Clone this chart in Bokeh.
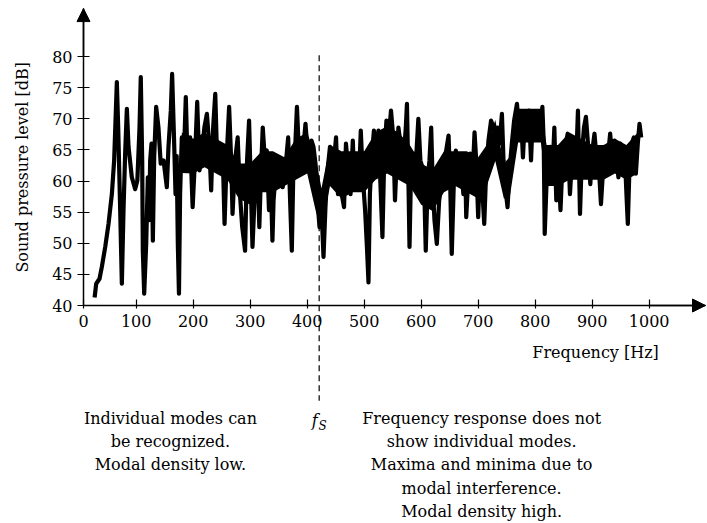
import math
from bokeh.plotting import figure
from bokeh.models import Range1d, FixedTicker, Label, Arrow, NormalHead, ColumnDataSource
from bokeh.embed import file_html
from bokeh.resources import INLINE

# ---- data ----
freq_hz = [
    27, 29.8, 35.6, 39.7, 45.6, 51.4, 57.3, 61.3, 64.3, 66, 68.4, 71.9, 74.8, 77.7, 80.6, 83.6, 86.5,
    92.3, 98.2, 102, 105.8, 108, 110.5, 111.6, 114, 117.5, 120.4, 122.7, 124.5, 126.8, 129.2, 131.5,
    135, 139, 143, 148, 153.7, 156.6, 160.7, 163, 166.6, 169, 171, 173, 175, 177, 180, 183, 187, 190,
    194.5, 199, 203, 207, 211, 215, 219.6, 224, 228, 231.5, 235, 238.7, 242, 247, 252, 255, 259, 263,
    266.6, 269, 273.5, 278, 282, 286, 291, 294.5, 298, 301.5, 304, 308.5, 313, 316, 319, 322, 325, 329,
    333, 336, 339, 341, 344, 348, 352.6, 357, 360, 363, 366.6, 370, 373, 376, 379, 382, 385, 389, 393.5,
    397, 400.5, 404, 407.6, 411, 414.5, 418, 421.6, 424.5, 428.6, 432, 435.6, 440, 443.7, 447, 450.6,
    454, 457.6, 460.5, 464.6, 468, 472, 476, 480, 483, 487, 491, 494, 497.6, 501.6, 505, 507.5,
    510, 513, 517, 520, 525, 528, 532, 535, 539, 543, 547, 551, 554, 557, 560, 563.7, 567, 570.6, 573,
    575, 578, 579.5, 582.5, 586.5, 590.6, 595, 598.6, 602, 605.6, 608, 611.6, 614.5, 617.5, 620.4, 623.3,
    627.4, 631.5, 635, 639, 643, 648, 650.6, 653.6, 657, 660.7, 664, 668, 672,
    674, 677, 679, 682.6, 686, 690.6, 693.6, 696.5, 700, 703.6, 707, 710.6, 714, 718, 722.6, 727, 730.6,
    734, 737.6, 741.6, 744.4, 747.5, 751.5, 755, 759, 763, 768, 771.5, 775, 778.5, 782, 785.5, 789,
    792.7, 796, 800, 804.5, 809, 812.6, 815, 816.7, 819.6, 823, 826.6, 830, 833.6, 837,
    841, 844.4, 848, 852.6, 857, 861, 864.4, 868.5, 872, 875, 878.6, 882, 885.6, 889, 892.6, 896.7,
    899.6, 904, 908, 912, 915.4, 919, 923, 927, 931.5, 935.6, 939, 943, 946, 949.6, 953.6, 957.6,
    960.6, 962.5, 965.4, 969.5, 973, 976.6, 980, 983, 986,
]
spl_db = [
    41.3, 43.5, 44.3, 46.2, 49.4, 53.1, 57.9, 63.3, 71.3, 75.9, 68.6, 55.3, 43.5, 55.3, 64.4, 71.6, 65.5,
    60.6, 58.7, 60.1, 68.6, 76.7, 63.3, 48.8, 41.9, 49.9, 60.6, 53.7, 63.3, 66, 50.4, 63.8,
    71.9, 68.6, 62.8, 63.3, 59, 65.5, 71.3, 77.2, 66, 57.9, 64, 50, 41.9, 57.9, 67, 62.2, 73.5, 63.3,
    67, 55.8, 63.3, 72.7, 61.7, 64.4, 68.6, 70.8, 66, 58.5, 68.6, 74, 63.3, 62.2, 63.8, 53.1, 64.4, 71.9,
    63.3, 54.7, 63.3, 67, 57.9, 52.6, 48.8, 63.3, 69.7, 57.9, 49.4, 59, 62.2, 52.6, 61.7, 68.6, 64.4, 64.9,
    55.3, 60.6, 50.4, 56.9, 60.6, 61.7, 63.3, 59, 61.2, 63.3, 67, 56.9, 48.8, 63.3, 65.5, 71.9, 65.5, 63.3, 65.5,
    69.2, 64.9, 61.7, 66.5, 65.5, 62.8, 56.9, 52.6, 56.9, 47.8, 55.8, 61.7, 65.5, 64.9, 63.3, 67,
    57.9, 61.7, 57.9, 55.8, 66, 61.7, 57.9, 66.5, 59, 63.3, 60.6, 68.1, 60.6, 55.3, 49, 43.7,
    57.9, 63.3, 68.1, 64.4, 68.1, 60.6, 51, 63.3, 69.7, 67, 71.3, 67, 56.9, 63.3, 68.6, 66, 62.2, 65.5, 68.6,
    72.4, 57.9, 49.4, 63.3, 64.4, 62.8, 70, 63.3, 62.2, 57.9, 48.8, 60.6, 63.3, 68.6, 59, 53.7,
    49.9, 56.9, 59, 61.7, 64.4, 67.3, 60.6, 48.3, 59, 64.9, 62.2, 63.3, 60.1,
    57.9, 63.3, 54.2, 60.6, 64.4, 61.7, 67.8, 63.3, 54.2, 63.3, 59, 53.1, 61.7, 66.5, 69.7, 68.6, 65.5,
    68.6, 66, 70.8, 63.3, 59, 55.8, 61.7, 66, 69.7, 72.4, 68.6, 70.8, 63.8, 70.3, 67.6, 71.3,
    63.3, 70.8, 68.6, 70.3, 68.6, 71.9, 66, 51.5, 59, 63.3, 65.5, 60.6, 68.6, 56.9,
    61.7, 55.3, 63.3, 65.5, 67.6, 57.9, 63.3, 66, 63.3, 71.3, 54.7, 64.4, 68.6, 70.3, 66, 59.5,
    64.4, 67.6, 63.3, 61.7, 56.3, 61.7, 63.8, 63.3, 67.6, 63.3, 66.5, 63.3, 60.6, 66, 64.9, 63.3,
    56.9, 53.1, 62.2, 66, 67, 61.2, 66, 69.2, 67,
]
# solid core of the dense trace (lower / upper edge)
band_hz = [180, 200, 220, 240, 260, 280, 300, 320, 340, 360, 380, 400, 415, 425, 440, 460, 480,
           500, 520, 540, 560, 580, 600, 620, 640, 660, 680, 700, 715, 730, 745, 755, 770, 790,
           810, 820, 840, 860, 880, 900, 920, 940, 960, 980]
band_lo_db = [61.3, 61.2, 62.2, 61.2, 60.2, 57.2, 56.2, 58.2, 58.2, 59.2, 60.2, 61.2, 55.2, 52.2,
              59.2, 57.2, 58.2, 58.2, 60.2, 61.2, 60.2, 59.2, 56.2, 55.2, 58.2, 59.2, 58.2, 57.2,
              59.2, 63.2, 57.2, 57.2, 66.2, 66.2, 66.2, 59.2, 59.2, 60.2, 60.2, 60.2, 60.2, 61.2,
              60.2, 61.2]
band_hi_db = [67.8, 66.8, 67.8, 66.8, 65.8, 62.8, 62.8, 64.8, 64.8, 63.8, 66.8, 67.8, 63.8, 58.8,
              65.8, 64.8, 64.8, 64.8, 67.8, 68.8, 67.8, 65.8, 62.8, 61.8, 64.8, 64.8, 64.8, 63.8,
              65.8, 69.8, 62.8, 63.8, 71.6, 71.6, 71.6, 65.8, 65.8, 67.8, 66.8, 65.8, 65.8, 66.8,
              65.8, 67.8]

x_ticks = [7.5, 100, 200, 300, 400, 500, 600, 700, 800, 900, 1000]
x_tick_labels = {7.5: "0"}
y_ticks = [40, 45, 50, 55, 60, 65, 70, 75, 80]
fs_hz = 421

left_lines = ["Individual modes can", "be recognized.", "Modal density low."]
right_lines = ["Frequency response does not", "show individual modes.",
               "Maxima and minima due to", "modal interference.", "Modal density high."]

FONT = "DejaVu Serif"

# axis positions (data units) and full-canvas ranges
AX_X, AX_Y = 7.5, 40
ARROW_X, ARROW_Y = 1098.8, 87.7
XR = (-138.1, 1102.3)
YR = (4.98, 89.0)

p = figure(width=707, height=523, output_backend="svg", toolbar_location=None,
           x_range=Range1d(*XR), y_range=Range1d(*YR),
           min_border=0, min_border_left=0, min_border_right=0,
           min_border_top=0, min_border_bottom=0)
p.outline_line_color = None
p.grid.visible = False
p.background_fill_color = "white"
p.border_fill_color = "white"

band = ColumnDataSource(dict(f=band_hz, lo=band_lo_db, hi=band_hi_db))
p.varea(x="f", y1="lo", y2="hi", source=band, fill_color="black")

src = ColumnDataSource(dict(f=freq_hz, db=spl_db))
p.line("f", "db", source=src, line_color="black", line_width=4.2, line_join="round")

for ax in (p.xaxis[0], p.yaxis[0]):
    ax.axis_line_width = 1.5
    ax.axis_line_color = "black"
    ax.major_tick_line_color = "black"
    ax.major_tick_line_width = 1.2
    ax.minor_tick_line_color = None
    ax.major_label_text_font = FONT
    ax.major_label_text_font_size = "16px"
    ax.major_label_text_color = "black"

p.xaxis.fixed_location = AX_Y
p.xaxis.bounds = (AX_X, ARROW_X)
p.xaxis.ticker = FixedTicker(ticks=x_ticks)
p.xaxis.major_label_overrides = x_tick_labels
p.xaxis.major_tick_in = 6
p.xaxis.major_tick_out = 3
p.xaxis.major_label_standoff = 6

p.yaxis.fixed_location = AX_X
p.yaxis.bounds = (AX_Y, ARROW_Y)
p.yaxis.ticker = FixedTicker(ticks=y_ticks)
p.yaxis.major_tick_in = 6
p.yaxis.major_tick_out = 6
p.yaxis.major_label_standoff = 5

# axis arrows
p.add_layout(Arrow(end=NormalHead(size=13, fill_color="black", line_color="black"),
                   x_start=AX_X, y_start=80, x_end=AX_X, y_end=ARROW_Y,
                   line_color="black", line_width=1.5))
p.add_layout(Arrow(end=NormalHead(size=13, fill_color="black", line_color="black"),
                   x_start=1000, y_start=AX_Y, x_end=ARROW_X, y_end=AX_Y,
                   line_color="black", line_width=1.5))

# dashed f_S line
p.add_layout(Arrow(end=None, x_start=fs_hz, y_start=80.2, x_end=fs_hz, y_end=24.7,
                   line_color="black", line_width=1.2, line_dash="6 4"))


def lab(x, y, text, size="16px", style="normal", align="center", angle=0.0):
    p.add_layout(Label(x=x, y=y, text=text, text_font=FONT, text_font_size=size,
                       text_font_style=style, text_align=align, text_baseline="middle",
                       text_color="black", angle=angle))


lab(-99.5, 62.2, "Sound pressure level [dB]", angle=math.pi / 2)
lab(906, 32.4, "Frequency [Hz]")

row_y = [21.9, 18.2, 14.4, 10.6, 6.9]
for i, t in enumerate(left_lines):
    lab(160, row_y[i], t)
for i, t in enumerate(right_lines):
    lab(706, row_y[i], t)

lab(413, 21.6, "f", style="italic")
lab(427, 20.6, "S", size="12px", style="italic")

open("out.html", "w").write(file_html(p, INLINE))
